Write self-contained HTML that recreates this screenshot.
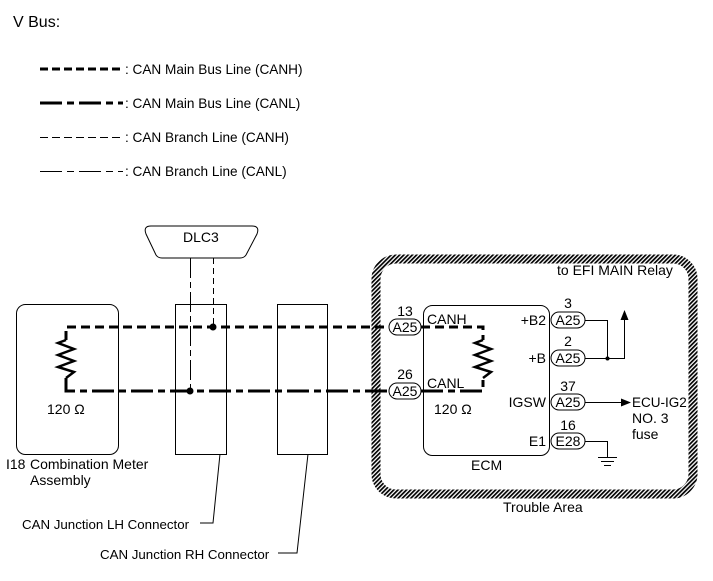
<!DOCTYPE html>
<html><head><meta charset="utf-8"><style>
html,body{margin:0;padding:0;background:#fff;}
svg{display:block;}
text{font-family:"Liberation Sans",Arial,sans-serif;fill:#000;}
</style></head><body>
<svg width="713" height="581" viewBox="0 0 713 581" xmlns="http://www.w3.org/2000/svg">
<defs>
<pattern id="h" width="3" height="3" patternUnits="userSpaceOnUse" patternTransform="rotate(45)">
<rect width="1.7" height="3" fill="#000"/>
</pattern>
</defs>
<text x="13" y="27" font-size="16">V Bus:</text>
<g stroke="#000" fill="none">
<line x1="40" y1="69" x2="123" y2="69" stroke-width="3" stroke-dasharray="8,4"/>
<line x1="40" y1="103" x2="123" y2="103" stroke-width="3" stroke-dasharray="22,5,7,5"/>
<line x1="40" y1="137.5" x2="123" y2="137.5" stroke-width="1" stroke-dasharray="8,4"/>
<line x1="40" y1="171.5" x2="123" y2="171.5" stroke-width="1" stroke-dasharray="22,5,7,5"/>
</g>
<g font-size="13.6">
<text x="125" y="74">: CAN Main Bus Line (CANH)</text>
<text x="125" y="108">: CAN Main Bus Line (CANL)</text>
<text x="125" y="142">: CAN Branch Line (CANH)</text>
<text x="125" y="176">: CAN Branch Line (CANL)</text>
</g>

<rect x="376" y="259" width="317" height="235" rx="20" fill="none" stroke="url(#h)" stroke-width="9"/>

<g stroke="#000" fill="none" stroke-width="1">
<path d="M151,226 L252,226 Q260,226 257,234 L246,255 Q244,258 240,258 L162,258 Q158,258 156,255 L146,234 Q143,226 151,226 Z"/>
<rect x="16.5" y="304.5" width="102" height="150" rx="9"/>
<rect x="175.5" y="304.5" width="51" height="150"/>
<rect x="277.5" y="304.5" width="50" height="150"/>
<rect x="423.5" y="305.5" width="126" height="150" rx="9"/>
<line x1="190.5" y1="258" x2="190.5" y2="391" stroke-dasharray="20,4,6,4"/>
<line x1="213.5" y1="258" x2="213.5" y2="327" stroke-dasharray="6,4"/>
<polyline points="220,454 213,523 200,523"/>
<polyline points="308,454 297,553 278,553"/>
</g>

<g stroke="#000" fill="none" stroke-width="3">
<polyline points="66,340 66,327 389,327" stroke-dasharray="9,5"/>
<polyline points="66,378 66,391 389,391" stroke-dasharray="22,5,7,5"/>
<polyline points="66,340 58,343 74,349 58,355 74,361 58,367 74,372 66,378" stroke-width="2.5"/>
<polyline points="421,327 483,327 483,340" stroke-dasharray="9,5"/>
<polyline points="421,391 483,391 483,378" stroke-dasharray="22,5,7,5"/>
<polyline points="483,340 475,343 491,349 475,355 491,361 475,367 491,372 483,378" stroke-width="2.5"/>
</g>
<circle cx="213" cy="327" r="3.5"/>
<circle cx="190" cy="391" r="3.5"/>

<g stroke="#000" fill="#fff" stroke-width="1">
<rect x="389" y="319" width="32" height="16" rx="8"/>
<rect x="389" y="383" width="32" height="16" rx="8"/>
<rect x="551" y="312" width="34" height="16" rx="8"/>
<rect x="551" y="350" width="34" height="16" rx="8"/>
<rect x="551" y="394" width="34" height="16" rx="8"/>
<rect x="551" y="433" width="34" height="16" rx="8"/>
</g>
<g font-size="14" text-anchor="middle">
<text x="405" y="332">A25</text>
<text x="405" y="396">A25</text>
<text x="568" y="325">A25</text>
<text x="568" y="363">A25</text>
<text x="568" y="407">A25</text>
<text x="568" y="446">E28</text>
<text x="405" y="316">13</text>
<text x="405" y="379">26</text>
<text x="568" y="308">3</text>
<text x="568" y="346">2</text>
<text x="568" y="391">37</text>
<text x="568" y="430">16</text>
</g>
<g stroke="#000" fill="none" stroke-width="1">
<polyline points="585,320.5 607.5,320.5 607.5,358"/>
<polyline points="585,358.5 624.5,358.5 624.5,318"/>
<line x1="585" y1="402.5" x2="622" y2="402.5"/>
<polyline points="585,441.5 607.5,441.5 607.5,457"/>
<line x1="598" y1="457.5" x2="617" y2="457.5"/>
<line x1="601" y1="461.5" x2="614" y2="461.5"/>
<line x1="604" y1="465.5" x2="611" y2="465.5"/>
</g>
<circle cx="607.5" cy="358.5" r="2"/>
<polygon points="624.5,310 620.5,320 628.5,320"/>
<polygon points="631,402.5 621,398.5 621,406.5"/>

<g font-size="14">
<text x="427" y="324">CANH</text>
<text x="427" y="388">CANL</text>
<text x="434" y="414">120 Ω</text>
<text x="47" y="414">120 Ω</text>
<text x="546" y="325" text-anchor="end">+B2</text>
<text x="546" y="363" text-anchor="end">+B</text>
<text x="546" y="407" text-anchor="end">IGSW</text>
<text x="546" y="446" text-anchor="end">E1</text>
<text x="632" y="407" font-size="13.5">ECU-IG2</text>
<text x="632" y="423">NO. 3</text>
<text x="632" y="439">fuse</text>
<text x="557" y="275">to EFI MAIN Relay</text>
<text x="471" y="470">ECM</text>
<text x="503" y="512">Trouble Area</text>
<text x="183" y="242">DLC3</text>
<text x="6" y="469">I18</text>
<text x="30" y="469">Combination Meter</text>
<text x="30" y="485">Assembly</text>
<text x="22" y="529" font-size="13.3">CAN Junction LH Connector</text>
<text x="100" y="559" font-size="13.3">CAN Junction RH Connector</text>
</g>
</svg>
</body></html>
